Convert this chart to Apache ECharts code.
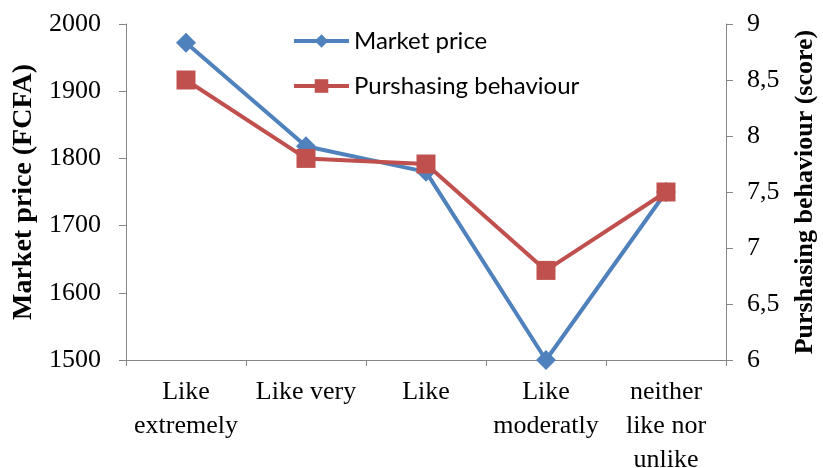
<!DOCTYPE html>
<html><head><meta charset="utf-8">
<script src="https://cdn.jsdelivr.net/npm/echarts@6/dist/echarts.min.js"></script>
<style>html,body{margin:0;padding:0;background:#fff}#c{width:823px;height:468px}</style>
</head><body><div id="c"></div>
<script>
const categories = ["Like\nextremely", "Like very", "Like", "Like\nmoderatly", "neither\nlike nor\nunlike"];
const marketPrice = [1972, 1818, 1780, 1500, 1750];
const purchasing = [8.5, 7.8, 7.75, 6.8, 7.5];
const leftTicks = {min: 1500, max: 2000, interval: 100};
const rightTicks = {min: 6, max: 9, interval: 0.5};

const chart = echarts.init(document.getElementById('c'));
const serif = "'Liberation Serif', 'Times New Roman', serif";
const axisLine = {show: true, lineStyle: {color: '#868686', width: 1}};
chart.setOption({
  animation: false,
  textStyle: {fontFamily: serif},
  grid: {left: 126, right: 97, top: 24, bottom: 108, containLabel: false, outerBoundsMode: 'none'},
  legend: {
    orient: 'vertical', left: 292, top: 29, itemGap: 21, padding: 0,
    itemWidth: 55, itemHeight: 17,
    lineStyle: {width: 4},
    textStyle: {fontFamily: "Lato", fontSize: 24, color: '#000'},
    data: ['Market price', 'Purshasing behaviour']
  },
  xAxis: {
    type: 'category', data: categories, boundaryGap: true,
    axisLine: axisLine,
    axisTick: {show: true, length: 6, lineStyle: {color: '#868686'}},
    axisLabel: {fontFamily: serif, fontSize: 26, color: '#000', lineHeight: 34, margin: 15, interval: 0}
  },
  yAxis: [
    {
      type: 'value', min: leftTicks.min, max: leftTicks.max, interval: leftTicks.interval,
      name: 'Market price (FCFA)', nameLocation: 'middle', nameGap: 87, nameRotate: 90,
      nameTextStyle: {fontFamily: serif, fontSize: 28, fontWeight: 'bold', color: '#000'},
      axisLine: axisLine,
      axisTick: {show: true, length: 7, lineStyle: {color: '#868686'}},
      axisLabel: {fontFamily: serif, fontSize: 26, color: '#000', margin: 25,
        formatter: v => String(v)},
      splitLine: {show: false}
    },
    {
      type: 'value', min: rightTicks.min, max: rightTicks.max, interval: rightTicks.interval,
      name: 'Purshasing behaviour (score)', nameLocation: 'middle', nameGap: 66, nameRotate: 90,
      nameTextStyle: {fontFamily: serif, fontSize: 26, fontWeight: 'bold', color: '#000'},
      axisLine: axisLine,
      axisTick: {show: true, length: 7, lineStyle: {color: '#868686'}},
      axisLabel: {fontFamily: serif, fontSize: 26, color: '#000', margin: 21,
        formatter: v => String(v).replace('.', ',')},
      splitLine: {show: false}
    }
  ],
  series: [
    {
      name: 'Market price', type: 'line', yAxisIndex: 0, data: marketPrice,
      symbol: 'diamond', symbolSize: 20,
      lineStyle: {color: '#4F81BD', width: 4},
      itemStyle: {color: '#4F81BD'}
    },
    {
      name: 'Purshasing behaviour', type: 'line', yAxisIndex: 1, data: purchasing,
      symbol: 'rect', symbolSize: 19,
      lineStyle: {color: '#C0504D', width: 4},
      itemStyle: {color: '#C0504D'}
    }
  ]
});
</script></body></html>
